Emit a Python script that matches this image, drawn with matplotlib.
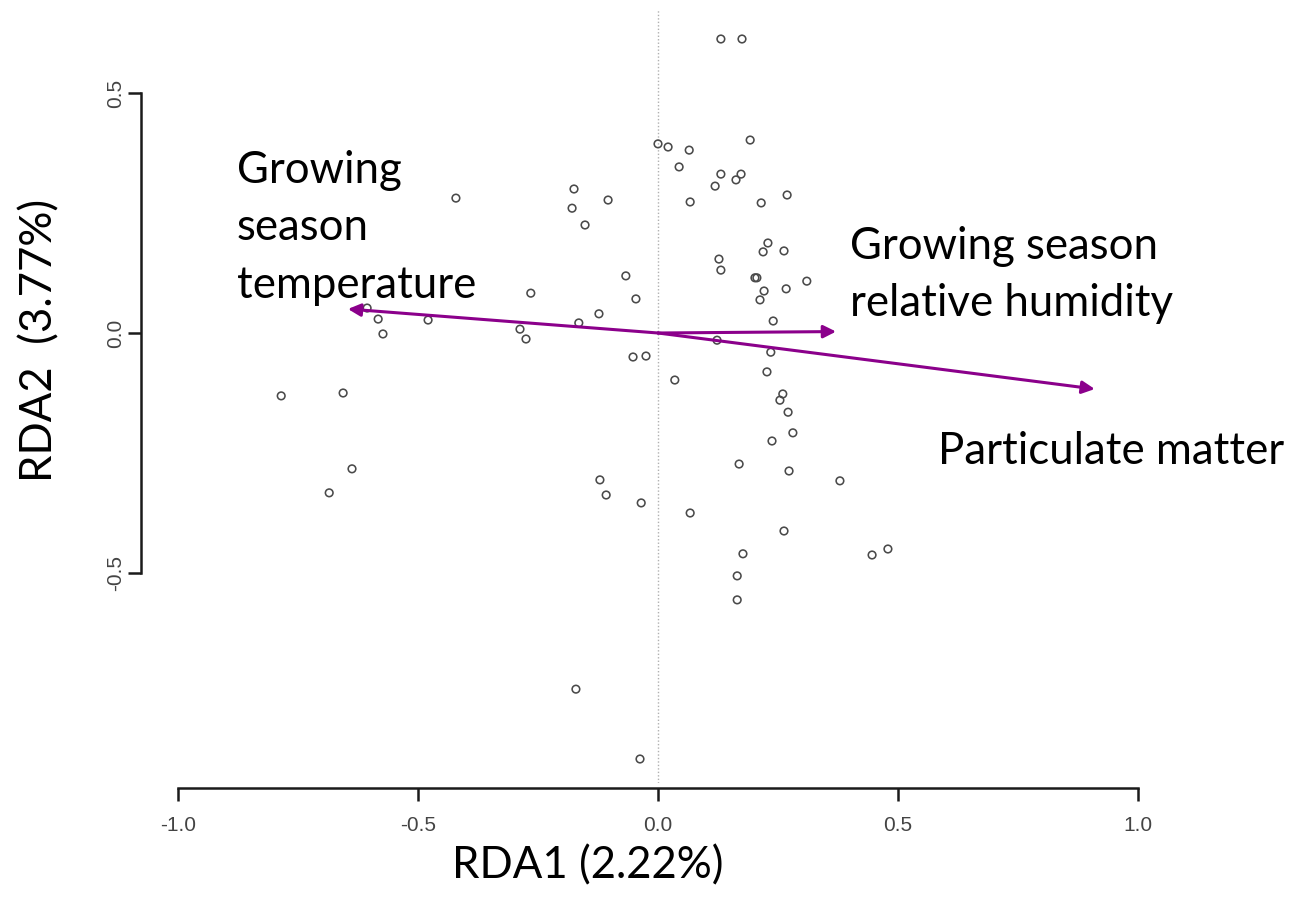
import matplotlib
matplotlib.use("Agg")
import matplotlib.pyplot as plt
from matplotlib.patches import FancyArrowPatch

# ---- data ----
site_x = [0.131, 0.175, 0.192, 0.000, 0.021, 0.065, 0.044, 0.131, 0.173, 0.1625,
          0.119, 0.269, -0.104, 0.067, 0.215, -0.421, -0.175, -0.179, -0.152, 0.229,
          0.219, 0.2625, 0.127, 0.131, 0.202, 0.206, 0.221, 0.267, 0.2125, 0.310,
          0.240, 0.123, 0.235, 0.227, 0.035, 0.260, 0.254, 0.271, 0.281, 0.2375,
          0.169, 0.273, 0.379, 0.2625, 0.177, 0.446, 0.479, 0.165, 0.165, -0.067,
          -0.046, -0.265, -0.123, -0.165, -0.2875, -0.275, -0.479, -0.583, -0.573, -0.606,
          -0.052, -0.025, -0.785, -0.656, -0.6375, -0.685, -0.121, -0.108, -0.035, 0.067,
          -0.171, -0.0375]
site_y = [0.6125, 0.6125, 0.402, 0.394, 0.3875, 0.381, 0.346, 0.331, 0.331, 0.319,
          0.306, 0.2875, 0.277, 0.273, 0.271, 0.281, 0.300, 0.260, 0.225, 0.1875,
          0.169, 0.171, 0.154, 0.131, 0.115, 0.115, 0.0875, 0.092, 0.069, 0.108,
          0.025, -0.015, -0.040, -0.081, -0.098, -0.127, -0.140, -0.165, -0.208, -0.225,
          -0.273, -0.2875, -0.308, -0.4125, -0.460, -0.4625, -0.450, -0.506, -0.556, 0.119,
          0.071, 0.083, 0.040, 0.021, 0.008, -0.0125, 0.027, 0.029, -0.002, 0.052,
          -0.050, -0.048, -0.131, -0.125, -0.283, -0.333, -0.306, -0.3375, -0.354, -0.375,
          -0.742, -0.8875]

env_names = ["Growing\nseason\ntemperature", "Growing season\nrelative humidity",
             "Particulate matter"]
env_x = [-0.646, 0.371, 0.910]
env_y = [0.050, 0.003, -0.1167]

x_ticks = [-1.0, -0.5, 0.0, 0.5, 1.0]
x_ticklabels = ["-1.0", "-0.5", "0.0", "0.5", "1.0"]
y_ticks = [-0.5, 0.0, 0.5]
y_ticklabels = ["-0.5", "0.0", "0.5"]
x_label = "RDA1 (2.22%)"
y_label = "RDA2  (3.77%)"

# ---- figure ----
W, H, DPI = 1294, 916, 100
fig = plt.figure(figsize=(W / DPI, H / DPI), dpi=DPI)
fig.patch.set_facecolor("white")

# plot region in pixels
left_px, right_px, top_px, bottom_px = 146, 1290, 10, 783
ax = fig.add_axes([left_px / W, 1 - bottom_px / H,
                   (right_px - left_px) / W, (bottom_px - top_px) / H])
x0_px, y0_px, scale = 658, 333, 480.0
ax.set_xlim((left_px - x0_px) / scale, (right_px - x0_px) / scale)
ax.set_ylim((y0_px - bottom_px) / scale, (y0_px - top_px) / scale)

for s in ["top", "right"]:
    ax.spines[s].set_visible(False)
off = 5 * 72 / DPI
ax.spines["left"].set_position(("outward", off))
ax.spines["bottom"].set_position(("outward", off))
ax.spines["left"].set_bounds(-0.5, 0.5)
ax.spines["bottom"].set_bounds(-1.0, 1.0)
for s in ["left", "bottom"]:
    ax.spines[s].set_linewidth(1.8)
    ax.spines[s].set_color("#1a1a1a")

ax.set_xticks(x_ticks)
ax.set_xticklabels(x_ticklabels)
ax.set_yticks(y_ticks)
ax.set_yticklabels(y_ticklabels, rotation=90, va="center")
ax.tick_params(axis="both", length=13 * 72 / DPI, width=1.8, color="#1a1a1a",
               labelsize=15, labelcolor="#444444")
ax.tick_params(axis="x", pad=11)
ax.tick_params(axis="y", pad=2)
for lab in ax.get_xticklabels() + ax.get_yticklabels():
    lab.set_family("Liberation Sans")

# dotted zero line
ax.axvline(0, color="#b0b0b0", lw=1.0, ls=(0, (1, 1.5)), zorder=1)

# site points
ax.scatter(site_x, site_y, s=30, facecolors="none", edgecolors="#4a4a4a",
           linewidths=1.15, zorder=3)

# biplot arrows
purple = "#8B008B"
for ex, ey in zip(env_x, env_y):
    arr = FancyArrowPatch((0, 0), (ex, ey),
                          arrowstyle="-|>,head_length=0.5,head_width=0.25",
                          mutation_scale=15, color=purple, lw=2.2,
                          shrinkA=0, shrinkB=0, zorder=4)
    ax.add_patch(arr)

# labels (Calibri-like)
fam = ["Lato", "DejaVu Sans"]
fs = 31.5
fig.text(237 / W, 1 - 150 / H, env_names[0], family=fam, fontsize=fs,
         ha="left", va="top", linespacing=1.5)
fig.text(850 / W, 1 - 226 / H, env_names[1], family=fam, fontsize=fs,
         ha="left", va="top", linespacing=1.5)
fig.text(938 / W, 1 - 452 / H, env_names[2], family=fam, fontsize=fs,
         ha="left", va="center")
fig.text(588 / W, 1 - 866 / H, x_label, family=fam, fontsize=fs,
         ha="center", va="center")
fig.text(40 / W, 1 - 340 / H, y_label, family=fam, fontsize=fs,
         ha="center", va="center", rotation=90)

fig.savefig("out.png", dpi=DPI)
